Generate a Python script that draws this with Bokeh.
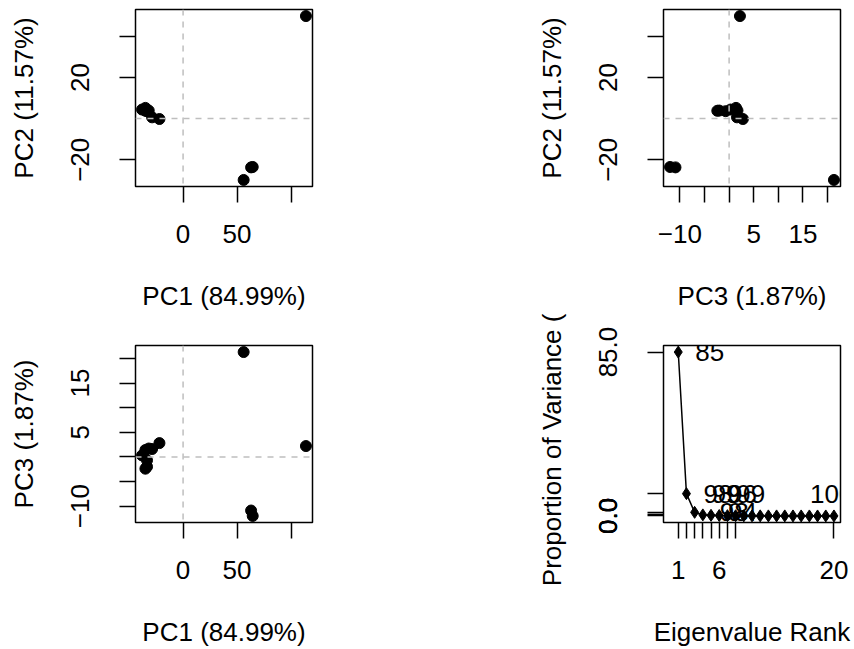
import math
from bokeh.plotting import figure
from bokeh.layouts import column, row
from bokeh.models import Range1d, FixedTicker, Span
from bokeh.core.properties import value
from bokeh.embed import file_html
from bokeh.resources import INLINE

# ---- data ----
pc1 = [113.8, 56.1, 63.0, 64.5, -21.9, -28.7, -38.0, -34.9, -31.8, -33.4, -33.4, -34.9]
pc2 = [49.8, -29.8, -23.7, -23.5, -0.2, 0.6, 4.4, 5.2, 3.9, 3.6, 3.9, 3.8]
pc3 = [2.2, 21.3, -10.9, -12.0, 2.8, 1.6, 0.3, 1.4, 1.7, -0.7, -2.0, -2.4]

var_pct = [84.99, 11.57, 1.87, 0.55, 0.32, 0.22, 0.14, 0.10, 0.07, 0.05,
           0.04, 0.03, 0.02, 0.02, 0.01, 0.01, 0.01, 0.0, 0.0, 0.0]
rank = list(range(1, len(var_pct) + 1))

# point labels of the scree panel (as drawn, overlapping)
label_text = ["85", "98", "99", "96", "99", "98", "94", "100"]
label_x = [1, 2, 3, 5, 6, 4, 5, 15]
label_y = [84.99, 11.57, 11.57, 11.57, 11.57, 1.87, 1.87, 11.57]

# tick positions and shown tick labels
pc1_ticks = [0, 50, 100]
pc1_labels = ["0", "50", ""]
pc2_ticks = [-20, 20, 40]
pc2_labels = ["\u221220", "20", ""]
pc3_ticks = [-10, -5, 0, 5, 10, 15, 20]
pc3_labels = ["\u221210", "", "", "5", "", "15", ""]
rank_ticks = [1, 2, 3, 4, 5, 6, 7, 8, 20]
rank_labels = ["1", "", "", "", "", "6", "", "", "20"]

FONT = "Liberation Sans"
FS = "26px"


def padded(vals):
    lo, hi = min(vals), max(vals)
    d = (hi - lo) * 0.04
    return Range1d(lo - d, hi + d)


def make_fig(xr, yr, w, h, left, right, top, bottom):
    p = figure(width=w, height=h, x_range=xr, y_range=yr, output_backend="svg",
               toolbar_location=None, min_border_left=left, min_border_right=right,
               min_border_top=top, min_border_bottom=bottom)
    p.grid.visible = False
    p.outline_line_color = "black"
    p.outline_line_width = 1.5
    p.outline_line_alpha = 1.0
    p.background_fill_color = "white"
    p.border_fill_color = "white"
    for ax in (p.xaxis[0], p.yaxis[0]):
        ax.axis_line_color = None
        ax.major_tick_out = 16
        ax.major_tick_in = 0
        ax.minor_tick_line_color = None
        ax.major_tick_line_width = 1.5
        ax.major_tick_line_color = "black"
        ax.major_label_text_font = FONT
        ax.major_label_text_font_size = FS
        ax.major_label_text_color = "black"
        ax.axis_label_text_font = FONT
        ax.axis_label_text_font_size = FS
        ax.axis_label_text_font_style = "normal"
        ax.axis_label_text_color = "black"
    p.xaxis[0].major_label_standoff = 22
    p.xaxis[0].axis_label_standoff = 35
    p.yaxis[0].major_label_standoff = 30
    p.yaxis[0].axis_label_standoff = 30
    p.yaxis[0].major_label_orientation = "vertical"
    return p


def set_ticks(axis, ticks, labels):
    axis.ticker = FixedTicker(ticks=ticks)
    axis.major_label_overrides = {t: l for t, l in zip(ticks, labels)}


def zero_lines(p):
    for dim in ("height", "width"):
        p.add_layout(Span(location=0, dimension=dim, line_color="#BEBEBE",
                          line_dash="6 6", line_width=1.5))


t1 = "PC1 (%.2f%%)" % var_pct[0]
t2 = "PC2 (%.2f%%)" % var_pct[1]
t3 = "PC3 (%.2f%%)" % var_pct[2]

# Panel 1: PC1 vs PC2
p1 = make_fig(padded(pc1), padded(pc2), 435, 313, 135, 123, 9, 127)
zero_lines(p1)
p1.scatter(pc1, pc2, size=11, color="black")
p1.xaxis.axis_label = t1
p1.yaxis.axis_label = t2
set_ticks(p1.xaxis[0], pc1_ticks, pc1_labels)
set_ticks(p1.yaxis[0], pc2_ticks, pc2_labels)

# Panel 2: PC3 vs PC2
p2 = make_fig(padded(pc3), padded(pc2), 419, 313, 228, 14, 9, 127)
zero_lines(p2)
p2.scatter(pc3, pc2, size=11, color="black")
p2.xaxis.axis_label = t3
p2.yaxis.axis_label = t2
set_ticks(p2.xaxis[0], pc3_ticks, pc3_labels)
set_ticks(p2.yaxis[0], pc2_ticks, pc2_labels)

# Panel 3: PC1 vs PC3
p3 = make_fig(padded(pc1), padded(pc3), 435, 336, 135, 123, 32, 127)
zero_lines(p3)
p3.scatter(pc1, pc3, size=11, color="black")
p3.xaxis.axis_label = t1
p3.yaxis.axis_label = t3
set_ticks(p3.xaxis[0], pc1_ticks, pc1_labels)
set_ticks(p3.yaxis[0], pc3_ticks, pc3_labels)

# Panel 4: scree plot
p4 = make_fig(padded([0] + rank), padded(var_pct), 419, 336, 228, 14, 32, 127)
p4.line(rank, var_pct, line_color="black", line_width=1.5)
p4.scatter(rank, var_pct, marker="diamond", size=12, color="black")
p4.text(x=label_x, y=label_y, text=label_text, x_offset=17, text_align="left",
        text_baseline="middle", text_font=value(FONT), text_font_size=FS, text_color="black")
p4.xaxis.axis_label = "Eigenvalue Rank"
p4.yaxis.axis_label = "Proportion of Variance (%)"
set_ticks(p4.xaxis[0], rank_ticks, rank_labels)
yt = list(var_pct)
yl = ["%.1f" % v if (v == max(var_pct) or v == min(var_pct)) else "" for v in yt]
set_ticks(p4.yaxis[0], yt, yl)

layout = column(row(p1, p2), row(p3, p4))
open("out.html", "w").write(file_html(layout, INLINE))
